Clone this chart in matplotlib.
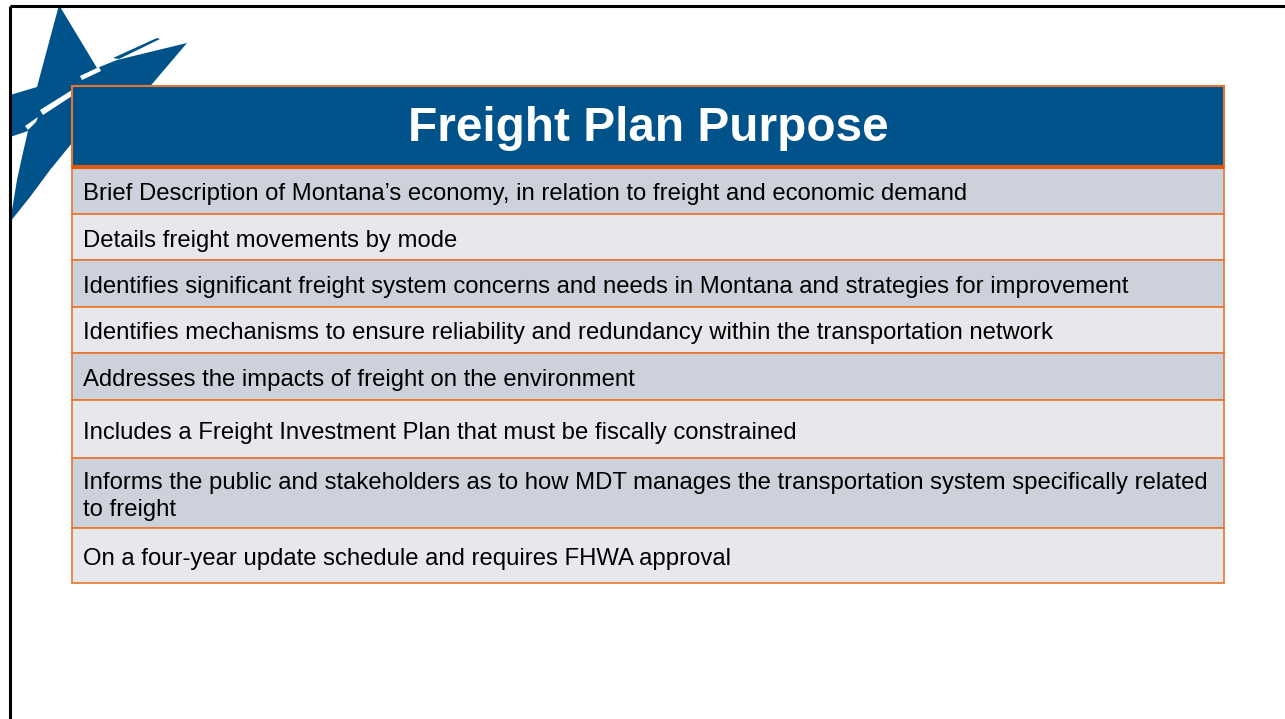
import matplotlib
matplotlib.use("Agg")
import matplotlib.pyplot as plt
from matplotlib.patches import Rectangle, Polygon

# ---- content ----
title = "Freight Plan Purpose"
items = [
    "Brief Description of Montana\u2019s economy, in relation to freight and economic demand",
    "Details freight movements by mode",
    "Identifies significant freight system concerns and needs in Montana and strategies for improvement",
    "Identifies mechanisms to ensure reliability and redundancy within the transportation network",
    "Addresses the impacts of freight on the environment",
    "Includes a Freight Investment Plan that must be fiscally constrained",
    "Informs the public and stakeholders as to how MDT manages the transportation system specifically related\nto freight",
    "On a four-year update schedule and requires FHWA approval",
]

# ---- layout (pixels) ----
W, H = 1285, 719
tbl_left, tbl_right = 72, 1224
header_top, header_bot = 86, 167
row_edges = [167, 214, 260, 307, 353, 400, 458, 528, 583]

BLUE = "#00538A"
ORANGE = "#E8752F"
ORANGE_DK = "#E35A0E"
ROW_DARK = "#CDD1DB"
ROW_LIGHT = "#E7E8EC"

fig = plt.figure(figsize=(W / 100, H / 100), dpi=100)
ax = fig.add_axes([0, 0, 1, 1])
ax.set_xlim(0, W)
ax.set_ylim(H, 0)
ax.axis("off")

# slide border (top and left)
ax.plot([10, W], [6, 6], color="black", lw=2.2, solid_capstyle="butt", zorder=5)
ax.plot([10, 10], [6, H], color="black", lw=2.2, solid_capstyle="butt", zorder=5)

# star logo
star = [(59, 5), (97, 68), (117, 60), (187, 43), (130, 110), (72, 143), (50, 170),
        (30, 197), (10, 222), (12, 210), (17, 180), (22, 157), (28, 131),
        (10, 137), (10, 95), (37, 87)]
ax.add_patch(Polygon(star, closed=True, facecolor=BLUE, edgecolor="none", zorder=1))
# thin sliver above right arm
ax.add_patch(Polygon([(113, 58), (157, 38), (160, 39), (119, 59)], closed=True,
                     facecolor=BLUE, edgecolor="none", zorder=1))
# white streaks
ax.add_patch(Polygon([(40, 110), (72, 90), (72, 96), (43, 115)], closed=True,
                     facecolor="white", edgecolor="none", zorder=2))
ax.add_patch(Polygon([(25, 126), (38, 117), (36, 122), (28, 130)], closed=True,
                     facecolor="white", edgecolor="none", zorder=2))
ax.add_patch(Polygon([(80, 76), (99, 67), (101, 71), (82, 80)], closed=True,
                     facecolor="white", edgecolor="none", zorder=2))

# header
ax.add_patch(Rectangle((tbl_left, header_top), tbl_right - tbl_left, header_bot - header_top,
                       facecolor=BLUE, edgecolor=ORANGE, lw=1.5, zorder=3))
ax.text((tbl_left + tbl_right) / 2, (header_top + header_bot) / 2 + 2, title,
        color="white", fontsize=34.4, fontweight="bold", family="Liberation Sans",
        ha="center", va="center", zorder=4)

# rows
for i, txt in enumerate(items):
    y0, y1 = row_edges[i], row_edges[i + 1]
    ax.add_patch(Rectangle((tbl_left, y0), tbl_right - tbl_left, y1 - y0,
                           facecolor=ROW_DARK if i % 2 == 0 else ROW_LIGHT,
                           edgecolor=ORANGE, lw=1.2, zorder=3))
    ax.text(tbl_left + 11, (y0 + y1) / 2 + 3.5, txt, color="black", fontsize=17.2,
            family="Liberation Sans", ha="left", va="center", linespacing=1.35, zorder=4)

# thick line under header
ax.plot([tbl_left, tbl_right], [header_bot, header_bot], color=ORANGE_DK, lw=3,
        solid_capstyle="butt", zorder=4)

fig.savefig("out.png", dpi=100, facecolor="white")
